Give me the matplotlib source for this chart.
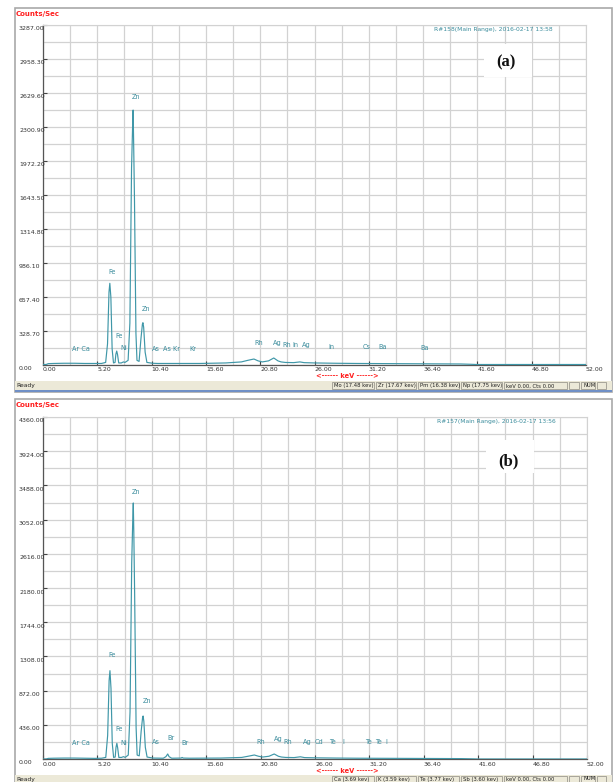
"""EDS spectra (a) and (b) redrawn as screenshot-like panels."""

import matplotlib

matplotlib.use("Agg")
import matplotlib.pyplot as plt  # noqa: E402
import matplotlib.transforms as mtransforms  # noqa: E402
from matplotlib.patches import Rectangle  # noqa: E402
import numpy as np  # noqa: E402

W, H = 614, 782

XTICKS = [0.0, 5.2, 10.4, 15.6, 20.8, 26.0, 31.2, 36.4, 41.6, 46.8, 52.0]
YMAX_A = 3287.0
YMAX_B = 4360.0

# spectrum (a): keV / counts per sec
ENERGY_A = [0.0, 0.3, 0.5, 1.0, 2.0, 3.0, 4.0, 5.0, 5.6, 6.0, 6.18, 6.32, 6.40,
            6.50, 6.62, 6.75, 6.9, 6.98, 7.06, 7.14, 7.25, 7.5, 7.7, 7.85, 8.15,
            8.32, 8.48, 8.58, 8.63, 8.68, 8.76, 8.9, 9.0, 9.2, 9.38, 9.52, 9.57,
            9.64, 9.78, 9.95, 10.5, 11.0, 13.0, 15.0, 17.5, 19.0, 19.6, 20.2,
            20.6, 21.0, 21.6, 22.1, 22.5, 22.8, 23.2, 24.0, 24.6, 25.0, 26.0,
            28.0, 30.0, 34.0, 38.0, 40.0, 41.0, 41.5, 52.0]
COUNTS_A = [0, 0, 8, 10, 12, 12, 10, 10, 10, 20, 200, 700, 785,
            650, 150, 15, 20, 100, 130, 95, 15, 15, 25, 20, 40,
            400, 1900, 2300, 2460, 2150, 1600, 300, 40, 30, 250, 390, 404,
            360, 120, 20, 12, 10, 10, 10, 15, 25, 40, 53,
            35, 25, 35, 63, 35, 25, 20, 18, 25, 18, 15,
            12, 10, 8, 6, 5, 2, 0, 0]

# spectrum (b)
ENERGY_B = [0.0, 0.3, 0.5, 1.0, 2.0, 3.0, 4.0, 5.0, 5.6, 6.0, 6.18, 6.32, 6.40,
            6.50, 6.62, 6.75, 6.9, 6.98, 7.06, 7.14, 7.25, 7.5, 7.7, 7.85, 8.15,
            8.32, 8.48, 8.58, 8.63, 8.68, 8.76, 8.9, 9.0, 9.2, 9.38, 9.52, 9.57,
            9.64, 9.78, 9.95, 10.5, 11.5, 11.75, 11.92, 12.05, 12.3, 13.2, 13.3,
            13.4, 14.0, 17.0, 19.0, 19.6, 20.2, 20.6, 21.0, 21.6, 22.1, 22.5,
            22.8, 23.2, 24.0, 24.6, 25.0, 26.0, 28.0, 30.0, 34.0, 38.0, 40.0,
            41.0, 41.5, 52.0]
COUNTS_B = [0, 0, 8, 10, 12, 12, 10, 8, 10, 20, 300, 1000, 1126,
            900, 200, 20, 25, 150, 200, 140, 20, 20, 30, 20, 50,
            600, 2500, 3050, 3264, 2900, 2100, 400, 50, 40, 350, 530, 548,
            480, 150, 25, 12, 10, 30, 64, 30, 10, 12, 20,
            12, 10, 12, 20, 35, 51, 35, 25, 35, 64, 35,
            25, 20, 18, 28, 18, 15, 12, 10, 8, 6, 5,
            2, 0, 0]

# element markers (name, keV, counts)
NAMES_A = ["Ar Ca", "Fe", "Zn", "Fe", "Ni", "Zn", "As", "As Kr", "Kr", "Rh",
           "Ag", "Rh", "In", "Ag", "In", "Cs", "Ba", "Ba"]
NAME_X_A = [3.6, 6.6, 8.9, 7.3, 7.7, 9.9, 10.8, 12.3, 14.4, 20.7,
            22.4, 23.3, 24.2, 25.2, 27.6, 31.0, 32.5, 36.5]
NAME_Y_A = [153, 897, 2589, 275, 162, 536, 153, 153, 153, 208,
            211, 188, 188, 188, 169, 169, 169, 155]

NAMES_B = ["Ar Ca", "Fe", "Zn", "Fe", "Ni", "Zn", "As", "Br", "Br", "Rh",
           "Ag", "Rh", "Ag", "Cd", "Te", "I", "Te", "Te", "I"]
NAME_X_B = [3.6, 6.6, 8.9, 7.3, 7.7, 9.9, 10.8, 12.2, 13.6, 20.8,
            22.5, 23.4, 25.3, 26.4, 27.7, 28.7, 31.1, 32.1, 32.8]
NAME_Y_B = [208, 1326, 3404, 386, 208, 740, 217, 268, 208, 220,
            255, 217, 217, 217, 217, 217, 217, 217, 217]

STATUS_A = ["Mo (17.48 kev)", "Zr (17.67 kev)", "Pm (16.38 kev)",
            "Np (17.75 kev)", "keV 0.00, Cts 0.00", "", "NUM", ""]
STATUS_B = ["Ca (3.69 kev)", "K (3.59 kev)", "Te (3.77 kev)",
            "Sb (3.60 kev)", "keV 0.00, Cts 0.00", "", "NUM", ""]
STATUS_EDGES = [(332, 374), (376, 416), (418, 459), (461, 502), (504, 567),
                (569, 579), (581, 595), (597, 606)]

LINE = "#3f97a8"
TEAL_TXT = "#3a8c9c"
GRID = "#d2d2d2"
BEIGE = "#ece9d8"
RED = "#ff2020"


def px_rect(l, t, r, b):
    return [l / W, 1 - b / H, (r - l) / W, (b - t) / H]


def fig_rect(fig, l, t, r, b, **kw):
    fig.add_artist(Rectangle((l / W, 1 - b / H), (r - l) / W, (b - t) / H,
                             transform=fig.transFigure, **kw))


def fig_text(fig, x, y, s, **kw):
    fig.text(x / W, 1 - y / H, s, **kw)


def draw_panel(fig, frame, box, energy, counts, ymax, names, nx, ny,
               run, run_xy, tag, tag_xy, tag_box, status, bar):
    ft, fb = frame
    fig_rect(fig, 15, ft, 612, fb, fc="white", ec="#a9a9a9", lw=1.2,
             zorder=-5)
    l, t, r, b = box
    ax = fig.add_axes(px_rect(l, t, r, b))
    ax.set_zorder(1)
    ax.plot(energy, counts, color=LINE, lw=0.85, zorder=3)
    ax.set_xlim(0, 52)
    ax.set_ylim(0, ymax)

    yt = np.linspace(0, ymax, 11)
    ax.set_xticks(XTICKS)
    ax.set_xticks(np.arange(21) * 2.6, minor=True)
    ax.set_yticks(yt)
    ax.set_yticks(np.linspace(0, ymax, 21), minor=True)
    ax.set_xticklabels([])
    ax.set_yticklabels([])
    ax.tick_params(which="major", direction="in", length=3, width=0.8,
                   color="#444444")
    ax.tick_params(which="minor", length=0)
    ax.grid(True, which="both", color=GRID, lw=0.9)
    ax.set_axisbelow(True)
    for s in ("top", "right"):
        ax.spines[s].set_color(GRID)
    for s in ("left", "bottom"):
        ax.spines[s].set_color("#555555")
        ax.spines[s].set_linewidth(0.9)

    # y tick labels, left aligned at the window edge
    ty = mtransforms.blended_transform_factory(fig.transFigure, ax.transData)
    ty = mtransforms.offset_copy(ty, fig=fig, x=0, y=-4, units="dots")
    for v in yt:
        ax.text(19 / W, v, f"{v:.2f}", transform=ty, fontsize=4.5,
                color="#333333", ha="left", va="center", clip_on=False)
    tx = mtransforms.blended_transform_factory(ax.transData, ax.transAxes)
    tx = mtransforms.offset_copy(tx, fig=fig, x=0, y=-5, units="dots")
    for v in XTICKS:
        ax.text(v, 0, f"{v:.2f}", transform=tx, fontsize=4.5,
                color="#333333", ha="left", va="center", clip_on=False)

    for s, x, y in zip(names, nx, ny):
        ax.text(x, y, s, fontsize=4.7, color=TEAL_TXT, ha="center",
                va="center", zorder=4)

    fig_text(fig, 16, ft + 6, "Counts/Sec", fontsize=5, color=RED,
             fontweight="bold", ha="left", va="center")
    fig_text(fig, run_xy[0], run_xy[1], run, fontsize=4.3, color=TEAL_TXT,
             ha="right", va="center", zorder=6)
    bl, bt, br, bb = tag_box
    fig_rect(fig, bl, bt, br, bb, fc="white", ec="none", zorder=5)
    fig_text(fig, tag_xy[0], tag_xy[1], tag, fontsize=12, fontweight="bold",
             family="Liberation Serif", color="#111111", ha="center",
             va="center", zorder=6)
    fig_text(fig, 347, b + 12, "<------ keV ------>", fontsize=4.8,
             color=RED, fontweight="bold", ha="center", va="center")

    # status bar
    st, sb = bar
    fig_rect(fig, 15, st, 612, sb, fc=BEIGE, ec="none")
    fig_text(fig, 16, (st + sb) / 2 + 0.5, "Ready", fontsize=4.3,
             color="#222222", ha="left", va="center")
    for s, (x0, x1) in zip(status, STATUS_EDGES):
        fig_rect(fig, x0, st + 0.5, x1, sb - 0.5, fc=BEIGE, ec="#9c9a90",
                 lw=0.6)
        if s:
            fig_text(fig, x0 + 2, (st + sb) / 2 + 0.5, s, fontsize=3.8,
                     color="#222222", ha="left", va="center")
    return ax


def main():
    fig = plt.figure(figsize=(W / 100, H / 100), dpi=100)
    fig.patch.set_facecolor("white")

    draw_panel(fig, (8, 392), (43, 24.5, 586, 364.5), ENERGY_A, COUNTS_A,
               YMAX_A, NAMES_A, NAME_X_A, NAME_Y_A,
               "R#158(Main Range), 2016-02-17 13:58", (553, 29),
               "(a)", (506, 62), (484, 44, 532, 77), STATUS_A, (381, 390))
    fig_rect(fig, 15, 390.5, 612, 392.5, fc="#6f8fc6", ec="none")

    draw_panel(fig, (399, 800), (43, 417, 587, 759), ENERGY_B, COUNTS_B,
               YMAX_B, NAMES_B, NAME_X_B, NAME_Y_B,
               "R#157(Main Range), 2016-02-17 13:56", (556, 422),
               "(b)", (508, 461), (486, 440, 534, 473), STATUS_B, (775, 782))

    fig.savefig("out.png", dpi=100)
    plt.close(fig)


if __name__ == "__main__":
    main()
